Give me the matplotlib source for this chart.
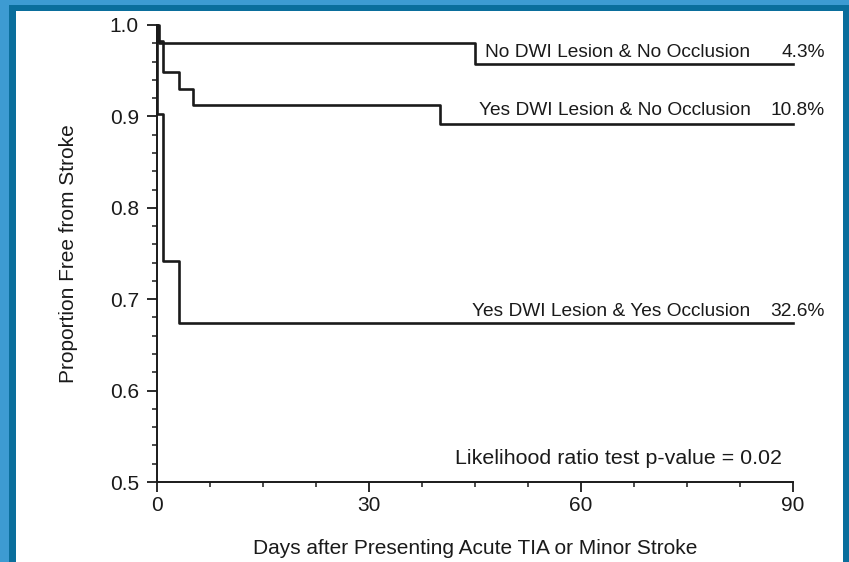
import matplotlib.pyplot as plt
import matplotlib.ticker as ticker
from matplotlib.patches import Rectangle

plt.rcParams['font.family'] = ['Liberation Sans', 'DejaVu Sans']

# Kaplan-Meier step data (days, proportion free from stroke)
t_noles_noocc = [0, 0.3, 45, 90]
s_noles_noocc = [1.0, 0.980, 0.957, 0.957]

t_les_noocc = [0, 0.8, 3.1, 5.1, 40, 90]
s_les_noocc = [0.982, 0.949, 0.930, 0.912, 0.892, 0.892]

t_les_occ = [0, 0.8, 3.1, 90]
s_les_occ = [0.903, 0.742, 0.674, 0.674]

labels = ['No DWI Lesion & No Occlusion', 'Yes DWI Lesion & No Occlusion',
          'Yes DWI Lesion & Yes Occlusion']
rates = ['4.3%', '10.8%', '32.6%']
label_y = [0.970, 0.906, 0.687]

fig = plt.figure(figsize=(8.49, 5.62), dpi=100)
fig.patch.set_facecolor('#3d9bd2')
# dark border + white panel
fig.patches.append(Rectangle((9/849, 0), 840/849, 1 - 5/562, transform=fig.transFigure,
                             facecolor='#0a6e9c', edgecolor='none', zorder=-10))
fig.patches.append(Rectangle((16/849, 0), 827/849, 1 - 11/562, transform=fig.transFigure,
                             facecolor='white', edgecolor='none', zorder=-9))

ax = fig.add_axes([157/849, 1 - 482/562, (793 - 157)/849, (482 - 25)/562])
ax.set_facecolor('none')
ax.set_zorder(1)

col = '#1a1a1a'
for tt, ss in [(t_noles_noocc, s_noles_noocc), (t_les_noocc, s_les_noocc), (t_les_occ, s_les_occ)]:
    ax.step([0] + tt, [1.0] + ss, where='post', color=col, lw=1.9, clip_on=False)

for lab, r, y in zip(labels, rates, label_y):
    ax.text(84.0, y, lab, ha='right', va='center', fontsize=13.8, color=col)
    ax.text(94.5, y, r, ha='right', va='center', fontsize=13.8, color=col, clip_on=False)

ax.text(88.5, 0.5255, 'Likelihood ratio test p-value = 0.02', ha='right', va='center',
        fontsize=15.4, color=col)

ax.set_xlim(0, 90)
ax.set_ylim(0.5, 1.0)
ax.xaxis.set_major_locator(ticker.MultipleLocator(30))
ax.xaxis.set_minor_locator(ticker.MultipleLocator(7.5))
ax.yaxis.set_major_locator(ticker.MultipleLocator(0.1))
ax.yaxis.set_minor_locator(ticker.MultipleLocator(0.02))
ax.yaxis.set_major_formatter(ticker.FormatStrFormatter('%.1f'))
for s in ['top', 'right']:
    ax.spines[s].set_visible(False)
for s in ['left', 'bottom']:
    ax.spines[s].set_linewidth(1.4)
    ax.spines[s].set_color(col)
ax.tick_params(which='major', length=7, width=1.3, labelsize=15, colors=col, pad=3)
ax.tick_params(axis='y', which='major', pad=6)
ax.tick_params(which='minor', length=3.5, width=1.1, colors=col)

ax.set_xlabel('Days after Presenting Acute TIA or Minor Stroke', fontsize=15, color=col, labelpad=17)
ax.set_ylabel('Proportion Free from Stroke', fontsize=15, color=col, labelpad=23)

fig.savefig('out.png', dpi=100, facecolor=fig.get_facecolor())
